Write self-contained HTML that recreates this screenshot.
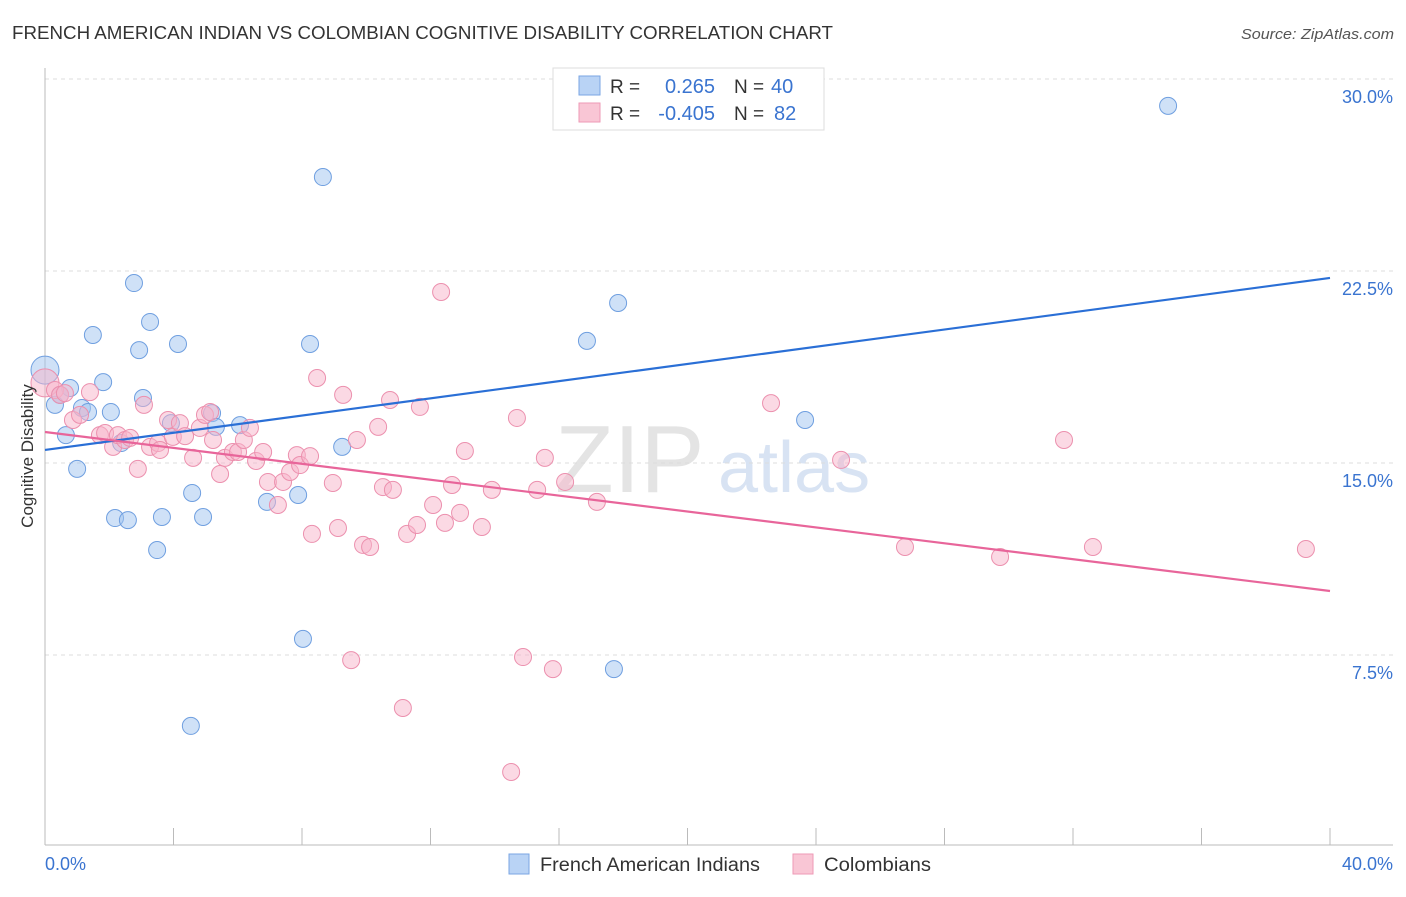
<!DOCTYPE html>
<html><head><meta charset="utf-8"><style>
body{margin:0;background:#fff;font-family:"Liberation Sans",sans-serif;}
svg text{font-family:"Liberation Sans",sans-serif;}
</style></head><body>
<svg id="chart" width="1406" height="892" xmlns="http://www.w3.org/2000/svg">
<text x="12" y="39" font-size="18" fill="#333" textLength="821" lengthAdjust="spacingAndGlyphs">FRENCH AMERICAN INDIAN VS COLOMBIAN COGNITIVE DISABILITY CORRELATION CHART</text>
<text x="1241" y="39" font-size="15" fill="#555" font-style="italic" textLength="153" lengthAdjust="spacingAndGlyphs">Source: ZipAtlas.com</text>
<text x="555" y="492" font-size="96" fill="#e4e4e4" font-family="Liberation Serif">ZIP</text>
<text x="718" y="492" font-size="72" fill="#d8e3f3">atlas</text>
<g id="grid"></g>
<g id="axes"></g>
<g id="marks"></g>
<text transform="translate(33,456) rotate(-90)" font-size="17" fill="#333" text-anchor="middle">Cognitive Disability</text>
<text x="45" y="870" font-size="18" fill="#3a74d0">0.0%</text>
<text x="1393" y="870" font-size="18" fill="#3a74d0" text-anchor="end">40.0%</text>
<g>
<rect x="553" y="68" width="271" height="62" fill="#fff" stroke="#ddd"/>
<rect x="579" y="76" width="21" height="19" fill="#b9d3f5" stroke="#7aa6e3"/>
<rect x="579" y="103" width="21" height="19" fill="#f9c6d5" stroke="#ee9ab6"/>
<text x="610" y="93" font-size="19" fill="#333">R =</text>
<text x="715" y="93" font-size="20" fill="#3a74d0" text-anchor="end">0.265</text>
<text x="734" y="93" font-size="19" fill="#333">N =</text>
<text x="771" y="93" font-size="20" fill="#3a74d0">40</text>
<text x="610" y="120" font-size="19" fill="#333">R =</text>
<text x="715" y="120" font-size="20" fill="#3a74d0" text-anchor="end">-0.405</text>
<text x="734" y="120" font-size="19" fill="#333">N =</text>
<text x="774" y="120" font-size="20" fill="#3a74d0">82</text>
</g>
<g>
<rect x="509" y="854" width="20" height="20" fill="#b9d3f5" stroke="#7aa6e3"/>
<text x="540" y="871" font-size="19" fill="#333" textLength="220" lengthAdjust="spacingAndGlyphs">French American Indians</text>
<rect x="793" y="854" width="20" height="20" fill="#f9c6d5" stroke="#ee9ab6"/>
<text x="824" y="871" font-size="19" fill="#333" textLength="107" lengthAdjust="spacingAndGlyphs">Colombians</text>
</g>
</svg>
<script>
const yTicks=[7.5,15,22.5,30];
const yTickLabels=["7.5%","15.0%","22.5%","30.0%"];
const xTicks=[0,4,8,12,16,20,24,28,32,36,40];
const blueX=[0,0.31,0.78,0.47,0.65,1.0,1.15,1.34,1.49,1.81,2.05,2.37,2.77,2.93,3.27,3.05,2.18,2.58,3.49,3.64,3.92,4.14,4.58,4.92,5.2,5.32,6.07,6.91,7.88,8.03,8.25,8.65,9.25,4.54,16.87,17.84,17.71,23.66,34.96];
const blueY=[18.63,17.27,17.93,17.66,16.09,14.77,17.15,16.99,20.0,18.16,16.99,15.78,22.03,19.41,20.51,17.54,12.85,12.77,11.6,12.89,16.56,19.65,13.83,12.89,16.95,16.41,16.48,13.48,13.75,8.13,19.65,26.17,15.63,4.73,19.77,21.25,6.95,16.68,28.95];
const pinkX=[0,0.31,0.47,0.62,0.87,1.09,1.4,1.71,1.87,2.12,2.27,2.49,2.65,2.89,3.08,3.27,3.52,3.58,3.83,3.98,4.2,4.36,4.61,4.82,4.98,5.14,5.23,5.45,5.6,5.85,6.01,6.19,6.38,6.57,6.79,6.94,7.25,7.41,7.63,7.84,7.94,8.25,8.31,8.47,8.96,9.12,9.28,9.53,9.71,9.9,10.12,10.37,10.52,10.74,10.83,11.14,11.27,11.58,11.67,12.08,12.33,12.45,12.67,12.92,13.07,13.6,13.91,14.51,14.69,14.88,15.32,15.56,15.81,16.19,17.18,22.6,24.78,26.77,29.73,31.72,32.62,39.25];
const pinkY=[18.13,17.85,17.66,17.73,16.68,16.88,17.77,16.09,16.17,15.63,16.09,15.9,15.98,14.77,17.27,15.63,15.78,15.51,16.68,16.02,16.56,16.05,15.2,16.37,16.88,16.99,15.9,14.57,15.2,15.43,15.43,15.9,16.37,15.08,15.43,14.26,13.36,14.26,14.65,15.31,14.92,15.27,12.23,18.32,14.22,12.46,17.66,7.3,15.9,11.8,11.72,16.41,14.06,17.46,13.95,5.43,12.23,12.58,17.19,13.36,21.68,12.66,14.14,13.05,15.47,12.5,13.95,2.93,16.76,7.42,13.95,15.2,6.95,14.26,13.48,17.34,15.12,11.72,11.33,15.9,11.72,11.64];
const blueTrend=[15.51,22.23];
const pinkTrend=[16.21,10.0];
const X=v=>45+v*32.125, Y=v=>847-v*25.6;
const NS="http://www.w3.org/2000/svg";
function mk(t,a,p){const e=document.createElementNS(NS,t);for(const k in a)e.setAttribute(k,a[k]);p.appendChild(e);return e;}
const grid=document.getElementById('grid'),axes=document.getElementById('axes'),marks=document.getElementById('marks');
yTicks.forEach((t,i)=>{
 const l=mk('line',{x1:45,x2:1393,y1:Y(t),y2:Y(t),stroke:'#ddd','stroke-dasharray':'4,4'},grid);
 
 
 const tx=mk('text',{x:1393,y:Y(t)+24,'font-size':18,fill:'#3a74d0','text-anchor':'end'},grid);
 tx.textContent=yTickLabels[i];
 
 
});
const ya=mk('line',{x1:45,x2:45,y1:68,y2:845,stroke:'#bbb'},axes);


const xa=mk('line',{x1:45,x2:1393,y1:845,y2:845,stroke:'#bbb'},axes);


xTicks.forEach(t=>{
 const l=mk('line',{x1:X(t),x2:X(t),y1:828,y2:845,stroke:'#bbb'},axes);
 
 
});
function dots(xs,ys,fill,stroke,name){
 xs.forEach((x,i)=>{
  const c=mk('circle',{cx:X(x),cy:Y(ys[i]),r:i===0?14:8.5,fill:fill,stroke:stroke,'stroke-width':1},marks);
  
  
 });
}
dots(blueX,blueY,'rgba(160,196,240,0.5)','#6f9fe0','french-american-indian-point');
dots(pinkX,pinkY,'rgba(248,180,202,0.5)','#ec90ae','colombian-point');
const bl=mk('line',{x1:X(0),y1:Y(blueTrend[0]),x2:X(40),y2:Y(blueTrend[1]),stroke:'#2a6fd6','stroke-width':2.2},marks);


const pl=mk('line',{x1:X(0),y1:Y(pinkTrend[0]),x2:X(40),y2:Y(pinkTrend[1]),stroke:'#e8659a','stroke-width':2.2},marks);


</script>
</body></html>
